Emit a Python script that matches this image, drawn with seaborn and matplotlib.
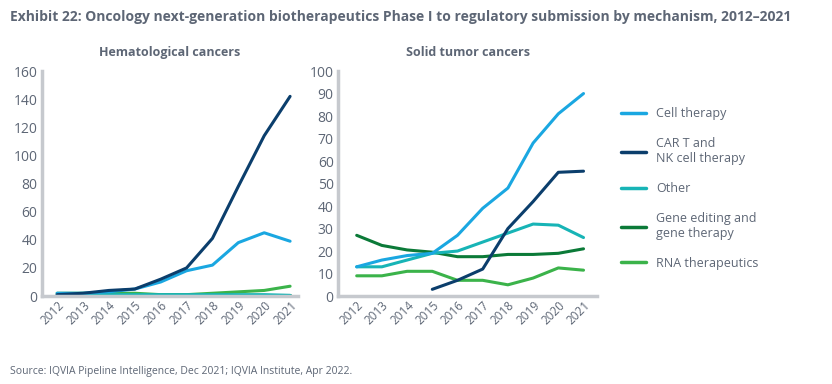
import numpy as np
import pandas as pd
import matplotlib.pyplot as plt
import seaborn as sns

years = [str(y) for y in range(2012, 2022)]
series = ['Cell therapy', 'CAR T and\nNK cell therapy', 'Other',
          'Gene editing and\ngene therapy', 'RNA therapeutics']
colors = ['#1aa7e1', '#0b3e6c', '#17b4b6', '#0b7a38', '#3bb34a']

# Hematological cancers
hema_cell = [2, 2, 3, 5, 10, 18, 22, 38, 45, 39]
hema_cart = [1, 2, 4, 5, 12, 20, 41, 78, 114, 142]
hema_other = [1, 1, 1, 1, 1, 1, 1, 1, 1, 0.5]
hema_gene = [0.5, 0.5, 0.5, 0.5, 0.5, 0.5, 0.5, 0.5, 0.5, 0.5]
hema_rna = [2, 2, 2, 2, 1, 1, 2, 3, 4, 7]

# Solid tumor cancers
solid_cell = [13, 16, 18, 19, 27, 39, 48, 68, 81, 90]
solid_cart = [np.nan, np.nan, np.nan, 3, 7, 12, 30, 42, 55, 55.5]
solid_other = [13, 13, 16, 19, 20, 24, 28, 32, 31.5, 26]
solid_gene = [27, 22.5, 20.5, 19.5, 17.5, 17.5, 18.5, 18.5, 19, 21]
solid_rna = [9, 9, 11, 11, 7, 7, 5, 8, 12.5, 11.5]


def to_long(vals):
    rows = []
    for name, v in zip(series, vals):
        for yr, x in zip(years, v):
            rows.append({'year': yr, 'value': x, 'series': name})
    return pd.DataFrame(rows)


hema = to_long([hema_cell, hema_cart, hema_other, hema_gene, hema_rna])
solid = to_long([solid_cell, solid_cart, solid_other, solid_gene, solid_rna])

sns.set_style('white')
plt.rcParams['font.family'] = ['Open Sans', 'DejaVu Sans']
grey = '#5d6675'
spine = '#c6c9ce'

fig = plt.figure(figsize=(8.32, 3.84), dpi=100)
ax1 = fig.add_axes([0.050, 0.229, 0.308, 0.586])
ax2 = fig.add_axes([0.406, 0.229, 0.312, 0.586])
palette = dict(zip(series, colors))

# draw back-to-front so dark lines stay on top
for ax, df, ymax, step, title, xl in [
        (ax1, hema, 160, 20, 'Hematological cancers', (-0.6, 9.3)),
        (ax2, solid, 100, 10, 'Solid tumor cancers', (-0.75, 9.55))]:
    for s in [series[4], series[3], series[2], series[0], series[1]]:
        sub = df[df['series'] == s]
        sns.lineplot(data=sub, x='year', y='value', color=palette[s], lw=2.2,
                     ax=ax, sort=False, label=s)
    ax.set_ylim(0, ymax)
    ax.set_xlim(*xl)
    ax.set_yticks(range(0, ymax + 1, step))
    ax.set_xlabel('')
    ax.set_ylabel('')
    ax.set_title(title, fontsize=9, fontweight='bold', color=grey, pad=11)
    for side in ['top', 'right']:
        ax.spines[side].set_visible(False)
    for side in ['left', 'bottom']:
        ax.spines[side].set_color(spine)
        ax.spines[side].set_linewidth(2.5)
    ax.tick_params(axis='y', labelsize=10, colors=grey, length=0, pad=3)
    ax.tick_params(axis='x', labelsize=8.5, colors=grey, length=0, pad=2)
    for lab in ax.get_xticklabels():
        lab.set_rotation(45)
        lab.set_ha('right')
        lab.set_rotation_mode('anchor')
    ax.get_legend().remove()

handles = [plt.Line2D([], [], color=c, lw=2.5) for c in colors]
fig.legend(handles, series, loc='upper left', bbox_to_anchor=(0.733, 0.75),
           frameon=False, fontsize=9, labelcolor=grey, handlelength=2.0,
           handletextpad=0.8, labelspacing=1.35)

fig.text(0.012, 0.945, 'Exhibit 22: Oncology next-generation biotherapeutics Phase I to '
         'regulatory submission by mechanism, 2012–2021',
         fontsize=10, fontweight='bold', color=grey, fontstretch='condensed')
fig.text(0.012, 0.025, 'Source: IQVIA Pipeline Intelligence, Dec 2021; IQVIA Institute, Apr 2022.',
         fontsize=7.5, color=grey)

fig.savefig('out.png', dpi=100)
